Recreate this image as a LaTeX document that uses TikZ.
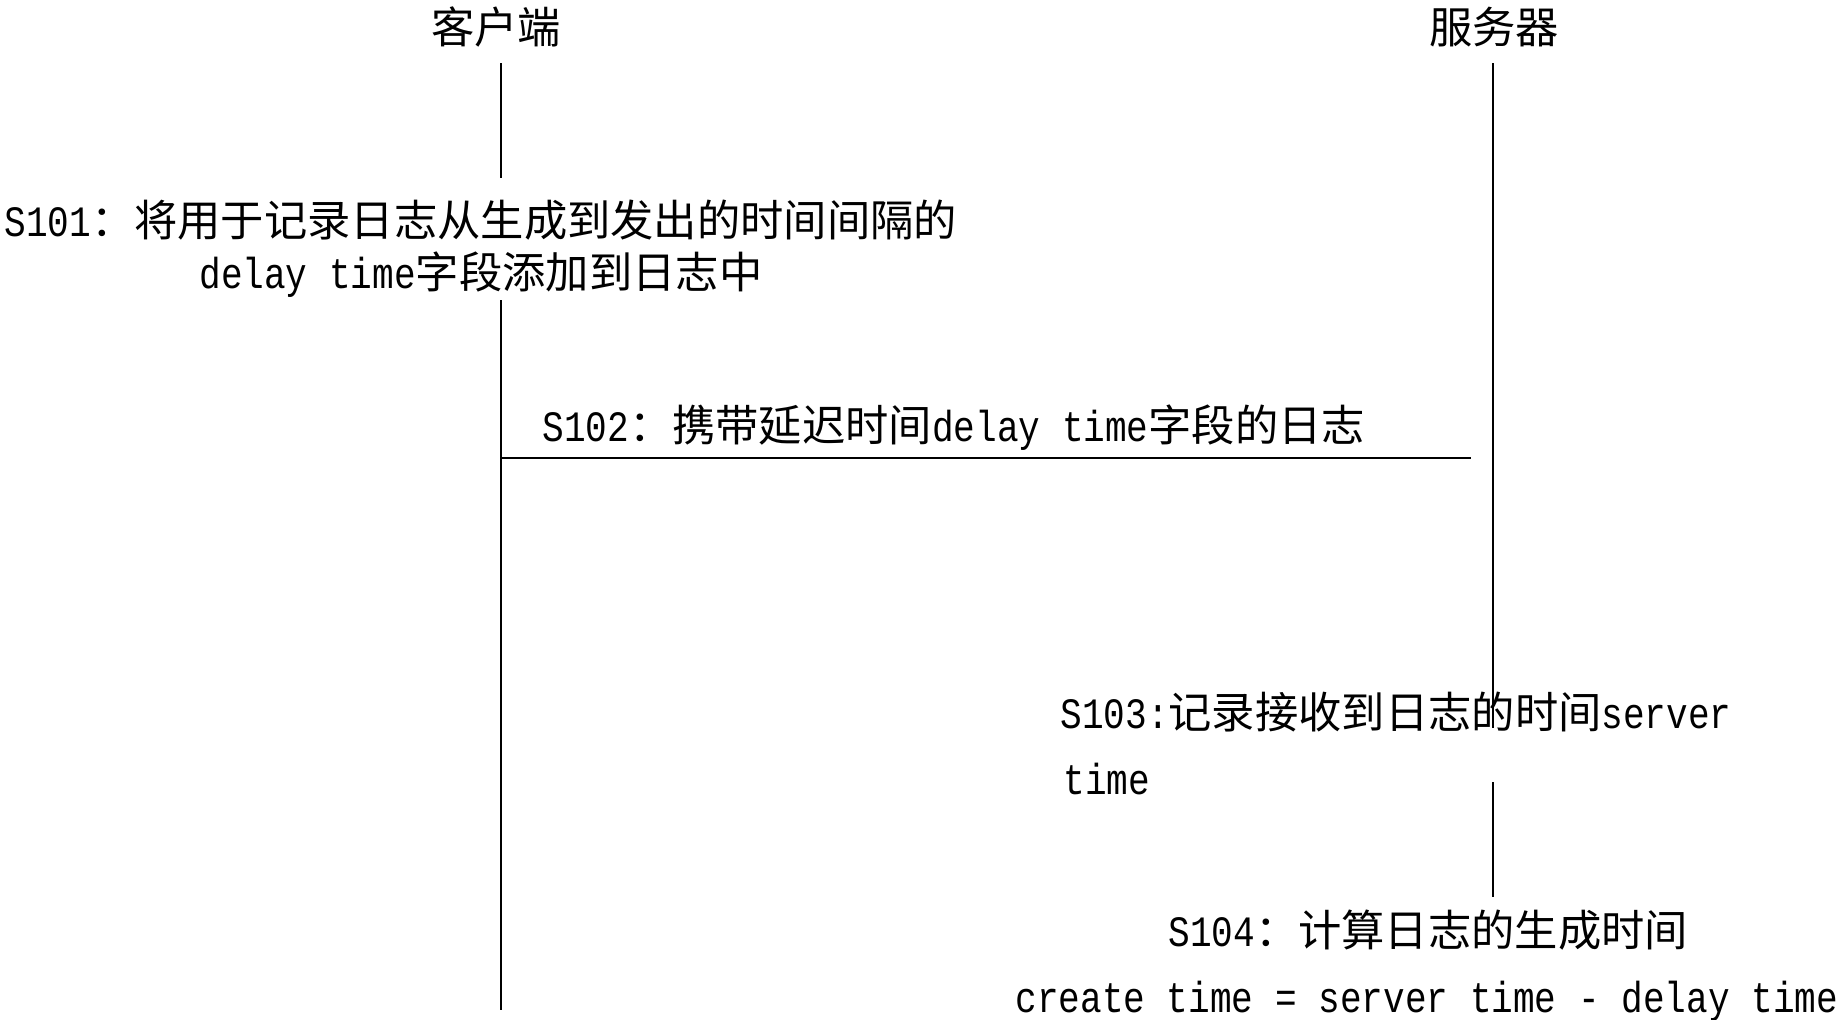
\documentclass[tikz,border=0pt]{standalone}
\usepackage{fontspec}
\setmainfont{Liberation Mono}[FakeStretch=0.8333]
\newfontfamily\zhfont{Noto Sans CJK SC}
\newcommand{\cn}[1]{{\zhfont #1}}

\tikzset{
    steptext/.style={inner sep=0pt, font=\fontsize{21.65pt}{26pt}\selectfont},
    lifeline/.style={line width=0.6pt},
}

\begin{document}
\begin{tikzpicture}[x=0.5pt, y=-0.5pt]
    \useasboundingbox (0,0) rectangle (1837,1019);

    %% Lifelines

    % Client
    \node[steptext, anchor=base] (client) at (496,43) {\cn{客户端}};
    \coordinate (C0) at (501,63);
    \coordinate (C1) at (501,178);
    \coordinate (C2) at (501,300);
    \coordinate (C3) at (501,1010);
    \draw[lifeline] (C0) -- (C1);
    \draw[lifeline] (C2) -- (C3);

    % Server
    \node[steptext, anchor=base] (server) at (1494,43) {\cn{服务器}};
    \coordinate (S0) at (1493,63);
    \coordinate (S1) at (1493,728);
    \coordinate (S2) at (1493,782);
    \coordinate (S3) at (1493,897);
    \draw[lifeline] (S0) -- (S1);
    \draw[lifeline] (S2) -- (S3);

    %% Steps

    % S101
    \node[steptext, anchor=base west] (s101a) at (4,236) {S101\cn{：将用于记录日志从生成到发出的时间间隔的}};
    \node[steptext, anchor=base west] (s101b) at (199,288) {delay time\cn{字段添加到日志中}};

    % S102
    \node[steptext, anchor=base west] (s102) at (542,441) {S102\cn{：携带延迟时间}delay time\cn{字段的日志}};
    \coordinate (M0) at (501,458);
    \coordinate (M1) at (1471,458);
    \draw[lifeline] (M0) -- (M1);

    % S103
    \node[steptext, anchor=base west] (s103a) at (1060,728) {S103:\cn{记录接收到日志的时间}server};
    \node[steptext, anchor=base west] (s103b) at (1063,794) {time};

    % S104
    \node[steptext, anchor=base west] (s104a) at (1168,946) {S104\cn{：计算日志的生成时间}};
    \node[steptext, anchor=base west] (s104b) at (1015,1012) {create time = server time - delay time};

\end{tikzpicture}
\end{document}
